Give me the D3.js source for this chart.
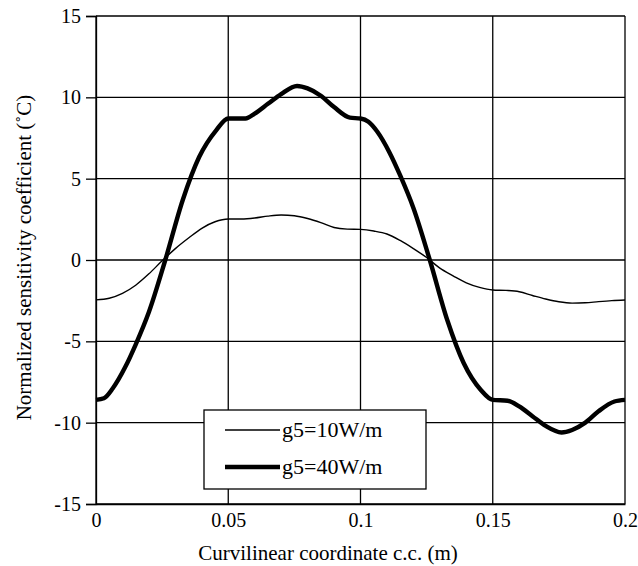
<!DOCTYPE html>
<html>
<head>
<meta charset="utf-8">
<script src="https://cdn.jsdelivr.net/npm/d3@7"></script>
<style>
  html, body { margin: 0; padding: 0; background: #fff; }
  svg { display: block; }
  svg text { font-family: "Liberation Serif", "Times New Roman", serif; fill: #000; }
</style>
</head>
<body>
<svg id="chart" width="638" height="566"></svg>
<script>
// Curvilinear coordinate c.c. (m) for the g5 = 40 W/m series
const ccX = [0, 0.003, 0.0063, 0.011, 0.015, 0.02, 0.0262, 0.0328, 0.039, 0.0455, 0.05,
  0.0565, 0.06, 0.065, 0.07, 0.076, 0.08, 0.085, 0.09, 0.096, 0.1,
  0.103, 0.1063, 0.111, 0.115, 0.12, 0.1262, 0.1328, 0.139, 0.1455, 0.15,
  0.1556, 0.16, 0.165, 0.17, 0.176, 0.18, 0.185, 0.19, 0.196, 0.2];

// Normalized sensitivity coefficient, g5 = 40 W/m
const g5High = [-8.6, -8.5, -7.9, -6.6, -5.2, -3.2, 0, 3.69, 6.33, 7.99, 8.7,
  8.7, 9.0, 9.6, 10.2, 10.7, 10.55, 10.1, 9.4, 8.75, 8.7,
  8.5, 7.9, 6.6, 5.2, 3.2, 0, -3.69, -6.33, -7.99, -8.6,
  -8.65, -9.0, -9.6, -10.2, -10.6, -10.45, -10.0, -9.3, -8.7, -8.6];

// Curvilinear coordinate c.c. (m) for the g5 = 10 W/m series
const lowX = [0, 0.005, 0.01, 0.015, 0.02, 0.025, 0.03, 0.035, 0.04, 0.045, 0.05,
  0.055, 0.06, 0.065, 0.07, 0.075, 0.08, 0.085, 0.09, 0.095, 0.1,
  0.105, 0.11, 0.115, 0.12, 0.125, 0.13, 0.135, 0.14, 0.145, 0.15,
  0.155, 0.16, 0.165, 0.17, 0.175, 0.18, 0.185, 0.19, 0.195, 0.2];

// Normalized sensitivity coefficient, g5 = 10 W/m
const g5Low = [-2.45, -2.35, -2.05, -1.55, -0.85, -0.05, 0.7, 1.35, 1.95, 2.35, 2.52,
  2.52, 2.58, 2.7, 2.77, 2.72, 2.55, 2.3, 2.0, 1.9, 1.88,
  1.78, 1.6, 1.2, 0.7, 0.15, -0.5, -0.97, -1.4, -1.68, -1.84,
  -1.87, -1.95, -2.18, -2.4, -2.57, -2.65, -2.63, -2.56, -2.5, -2.46];

const xTicks = [0, 0.05, 0.1, 0.15, 0.2];
const xTickLabels = ["0", "0.05", "0.1", "0.15", "0.2"];
const yTicks = [-15, -10, -5, 0, 5, 10, 15];
const yTickLabels = ["-15", "-10", "-5", "0", "5", "10", "15"];

const seriesNames = ["g5=10W/m", "g5=40W/m"];

const svg = d3.select("#chart");
const plot = { left: 96, right: 625, top: 16, bottom: 504 };

const x = d3.scaleLinear().domain([0, 0.2]).range([plot.left, plot.right]);
const y = d3.scaleLinear().domain([-15, 15]).range([plot.bottom, plot.top]);

const FONT = '"Liberation Serif", "Times New Roman", serif';

// Grid lines
const grid = svg.append("g").attr("stroke", "#000").attr("stroke-width", 1.3);
grid.selectAll("line.gx").data(xTicks).join("line").attr("class", "gx")
  .attr("x1", d => x(d)).attr("x2", d => x(d))
  .attr("y1", plot.top).attr("y2", plot.bottom);
grid.selectAll("line.gy").data(yTicks).join("line").attr("class", "gy")
  .attr("x1", plot.left).attr("x2", plot.right)
  .attr("y1", d => y(d)).attr("y2", d => y(d));

// Axes
const yAxis = d3.axisLeft(y).tickValues(yTicks).tickFormat((d, i) => yTickLabels[i])
  .tickSizeOuter(0).tickSize(10).tickPadding(5);
const gy = svg.append("g").attr("transform", `translate(${plot.left},0)`).call(yAxis);
gy.attr("font-family", null).attr("font-size", null);
gy.select(".domain").attr("stroke", "#000").attr("stroke-width", 1.3);
gy.selectAll(".tick line").attr("stroke", "#000").attr("stroke-width", 1.3);
gy.selectAll(".tick text").style("font-family", FONT).style("font-size", "20px");

const xAxis = d3.axisBottom(x).tickValues(xTicks).tickFormat((d, i) => xTickLabels[i])
  .tickSizeOuter(0).tickSize(0).tickPadding(9);
const gx = svg.append("g").attr("transform", `translate(0,${plot.bottom})`).call(xAxis);
gx.attr("font-family", null).attr("font-size", null);
gx.select(".domain").attr("stroke", "#000").attr("stroke-width", 1.3);
gx.selectAll(".tick text").style("font-family", FONT).style("font-size", "20px");

// Curves
const line = d3.line().x(d => x(d[0])).y(d => y(d[1])).curve(d3.curveMonotoneX);
svg.append("path")
  .datum(lowX.map((v, i) => [v, g5Low[i]]))
  .attr("d", line).attr("fill", "none").attr("stroke", "#000").attr("stroke-width", 1.4);
svg.append("path")
  .datum(ccX.map((v, i) => [v, g5High[i]]))
  .attr("d", line).attr("fill", "none").attr("stroke", "#000").attr("stroke-width", 4.4)
  .attr("stroke-linejoin", "round");

// Legend
const legend = svg.append("g");
legend.append("rect").attr("x", 204).attr("y", 410).attr("width", 222).attr("height", 79)
  .attr("fill", "#fff").attr("stroke", "#000").attr("stroke-width", 1.3);
const legendWidths = [1.4, 4.4];
const legendY = [430, 467];
seriesNames.forEach((name, i) => {
  legend.append("line").attr("x1", 225).attr("x2", 280)
    .attr("y1", legendY[i]).attr("y2", legendY[i])
    .attr("stroke", "#000").attr("stroke-width", legendWidths[i]);
  legend.append("text").attr("x", 282).attr("y", legendY[i] + 7)
    .style("font-family", FONT).style("font-size", "22px").text(name);
});

// Axis titles
svg.append("text").attr("x", 328).attr("y", 560)
  .attr("text-anchor", "middle").style("font-family", FONT).style("font-size", "21px")
  .text("Curvilinear coordinate c.c. (m)");
svg.append("text")
  .attr("transform", "translate(31,257.5) rotate(-90)")
  .attr("text-anchor", "middle").style("font-family", FONT).style("font-size", "21px")
  .text("Normalized sensitivity coefficient (˚C)");
</script>
</body>
</html>
